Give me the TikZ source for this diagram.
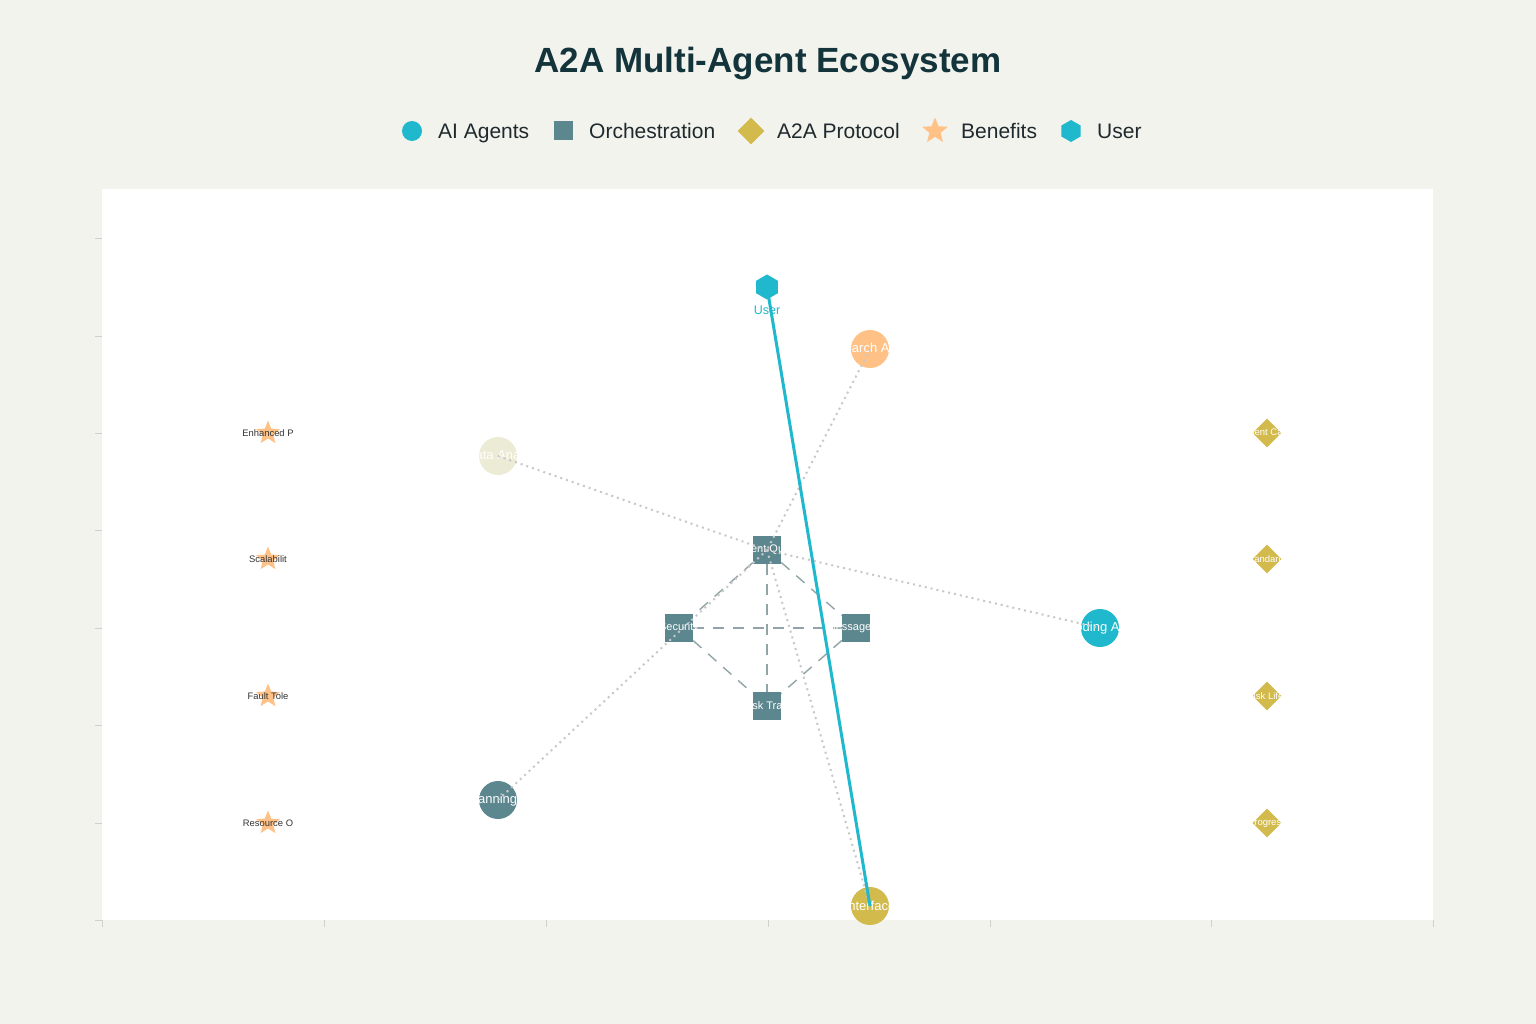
\documentclass[tikz,border=0pt]{standalone}
\usepackage{fontspec}
\setmainfont{Liberation Sans}
\usetikzlibrary{shapes.geometric}
\definecolor{pagebg}{HTML}{F3F3EE}
\definecolor{titlec}{HTML}{13343B}
\definecolor{agentc}{HTML}{1FB8CD}
\definecolor{orchc}{HTML}{5D878F}
\definecolor{protoc}{HTML}{D2BA4C}
\definecolor{benefc}{HTML}{FFC185}
\definecolor{beigec}{HTML}{ECEBD5}
\definecolor{dotc}{HTML}{C8C8C8}
\definecolor{dashc}{HTML}{92A4A7}
\definecolor{tickc}{HTML}{D0D0CC}
\definecolor{legtext}{HTML}{1F2A2E}
\pgfdeclarelayer{bglayer}
\pgfdeclarelayer{backlayer}
\pgfsetlayers{bglayer,backlayer,main}
\begin{document}
\begin{tikzpicture}[x=1pt,y=-1pt,
  agentnode/.style={circle,draw=none,minimum size=38pt,inner sep=0pt},
  orchnode/.style={rectangle,fill=orchc,minimum size=28pt,inner sep=0pt},
  protonode/.style={diamond,fill=protoc,aspect=1,minimum size=29pt,inner sep=0pt},
  benefnode/.style={star,star points=5,star point ratio=2.3,fill=benefc,minimum size=25pt,inner sep=0pt},
  usernode/.style={regular polygon,regular polygon sides=6,shape border rotate=30,fill=agentc,minimum size=25pt,inner sep=0pt},
  wlabel/.style={text=white,font=\fontsize{13}{15}\selectfont,inner sep=0pt},
  slabel/.style={text=white,font=\fontsize{11}{12}\selectfont,inner sep=0pt},
  dlabel/.style={text=white,font=\fontsize{9.5}{11}\selectfont,inner sep=0pt},
  blabel/.style={text=black!80,font=\fontsize{9.4}{11}\selectfont,inner sep=0pt},
  dotline/.style={draw=dotc,line width=2pt,dash pattern=on 2pt off 4pt},
  dashline/.style={draw=dashc,line width=1.4pt,dash pattern=on 11pt off 9pt},
  userline/.style={draw=agentc,line width=3pt},
  legtxt/.style={anchor=base west,text=legtext,font=\fontsize{21}{24}\selectfont,inner sep=0pt},
  tick/.style={draw=tickc,line width=0.8pt}
]
\begin{pgfonlayer}{bglayer}
\fill[pagebg] (0,0) rectangle (1536,1024);
\fill[white] (102,189) rectangle (1433,920);
\foreach \yy in {238,336,433,530,628,725,823,920} {\draw[tick] (95,\yy) -- (102,\yy);}
\foreach \xx in {102,324,546,768,990,1211,1433} {\draw[tick] (\xx,920) -- (\xx,927);}
\end{pgfonlayer}
\useasboundingbox (0,0) rectangle (1536,1024);

% title
\node[text=titlec,font=\bfseries\fontsize{35}{40}\selectfont] (title) at (768,64) {A2A Multi-Agent Ecosystem};

% legend
\node[circle,fill=agentc,minimum size=20pt,inner sep=0pt] (lgA) at (412,131) {};
\node[legtxt] (lgAt) at (438,138.5) {AI Agents};
\node[rectangle,fill=orchc,minimum size=19pt,inner sep=0pt] (lgO) at (563,131) {};
\node[legtxt] (lgOt) at (589,138.5) {Orchestration};
\node[diamond,fill=protoc,aspect=1,minimum size=27pt,inner sep=0pt] (lgP) at (751,131) {};
\node[legtxt] (lgPt) at (777,138.5) {A2A Protocol};
\node[star,star points=5,star point ratio=2.3,fill=benefc,minimum size=27pt,inner sep=0pt] (lgB) at (935,131) {};
\node[legtxt] (lgBt) at (961,138.5) {Benefits};
\node[regular polygon,regular polygon sides=6,shape border rotate=30,fill=agentc,minimum size=22pt,inner sep=0pt] (lgU) at (1071,131) {};
\node[legtxt] (lgUt) at (1097,138.5) {User};

% orchestration dashed mesh
\node[orchnode] (queue) at (767,550) {};
\node[orchnode] (secur) at (679,628) {};
\node[orchnode] (msg) at (856,628) {};
\node[orchnode] (task) at (767,706) {};
\begin{pgfonlayer}{backlayer}
\draw[dashline] (queue) -- (secur);
\draw[dashline] (queue) -- (msg);
\draw[dashline] (secur) -- (task);
\draw[dashline] (msg) -- (task);
\draw[dashline] (secur) -- (msg);
\draw[dashline] (queue) -- (task);
\end{pgfonlayer}
\node[slabel] (queueT) at (queue) {Agent Queu};
\node[slabel] (securT) at (secur) {Security};
\node[slabel] (msgT) at (msg) {Message Br};
\node[slabel] (taskT) at (task) {Task Track};

% agents
\node[usernode] (user) at (767,287) {};
\node[text=agentc,font=\fontsize{12.5}{14}\selectfont,inner sep=0pt] (userT) at (767,310) {User};
\node[agentnode,fill=benefc] (search) at (870,349) {};
\node[wlabel] (searchT) at (search) {Search Age};
\node[agentnode,fill=beigec] (data) at (498,456) {};
\node[wlabel] (dataT) at (data) {Data Analy};
\node[agentnode,fill=agentc] (coding) at (1100,628) {};
\node[wlabel] (codingT) at (coding) {Coding Age};
\node[agentnode,fill=orchc] (plan) at (498,800) {};
\node[wlabel] (planT) at (plan) {Planning A};
\node[agentnode,fill=protoc] (iface) at (870,906) {};
\node[wlabel] (ifaceT) at (iface) {Interface};

% protocol
\node[protonode] (p1) at (1267,433) {};
\node[dlabel] at (p1) {Agent Card};
\node[protonode] (p2) at (1267,559) {};
\node[dlabel] at (p2) {Standards};
\node[protonode] (p3) at (1267,696) {};
\node[dlabel] at (p3) {Task Lifec};
\node[protonode] (p4) at (1267,823) {};
\node[dlabel] at (p4) {Progress};

% benefits
\node[benefnode] (b1) at (268,433) {};
\node[blabel] at (b1) {Enhanced P};
\node[benefnode] (b2) at (268,559) {};
\node[blabel] at (b2) {Scalabilit};
\node[benefnode] (b3) at (268,696) {};
\node[blabel] at (b3) {Fault Tole};
\node[benefnode] (b4) at (268,823) {};
\node[blabel] at (b4) {Resource O};

% connectors on top
\draw[dotline] (search.center) -- (queue.center);
\draw[dotline] (data.center) -- (queue.center);
\draw[dotline] (queue.center) -- (coding.center);
\draw[dotline] (plan.center) -- (queue.center);
\draw[dotline] (queue.center) -- (iface.center);
\draw[userline] (user.center) -- (iface.center);
\end{tikzpicture}
\end{document}
